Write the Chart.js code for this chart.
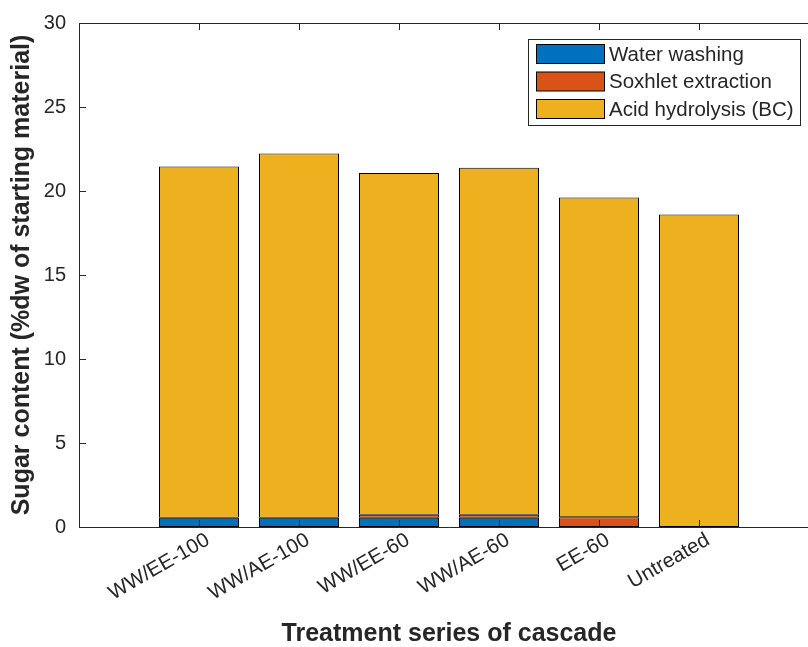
<!DOCTYPE html>
<html>
<head>
<meta charset="utf-8">
<script src="https://cdn.jsdelivr.net/npm/chart.js@4/dist/chart.umd.min.js"></script>
<style>
  html, body { margin: 0; padding: 0; background: #fff; overflow: hidden; }
  #wrap { width: 830px; height: 647px; }
</style>
</head>
<body>
<div id="wrap"><canvas id="c" width="830" height="647"></canvas></div>
<script>
// Cascade treatments on the x axis
const categories = ['WW/EE-100', 'WW/AE-100', 'WW/EE-60', 'WW/AE-60', 'EE-60', 'Untreated'];
// Sugar released at each step, %dw of starting material
const waterWashing      = [0.55, 0.55, 0.55, 0.55, 0, 0];
const soxhletExtraction = [0, 0, 0.18, 0.18, 0.58, 0];
const acidHydrolysis    = [20.91, 21.68, 20.34, 20.65, 19.03, 18.60];
const yTicks = [0, 5, 10, 15, 20, 25, 30];

const AXIS = '#262626';
const FONT = '"Liberation Sans", Arial, Helvetica, sans-serif';

const toPoints = arr => arr.map((v, i) => ({ x: i + 1, y: v }));

// Inside tick marks, top border and the in-plot legend, drawn like a boxed axes
const boxPlugin = {
  id: 'box',
  afterDraw(chart) {
    const { ctx, chartArea: a, scales } = chart;
    const L = 7;
    ctx.save();
    ctx.strokeStyle = AXIS;
    ctx.lineWidth = 1;
    ctx.beginPath();
    // top and right frame
    ctx.moveTo(a.left, a.top + 0.5); ctx.lineTo(a.right, a.top + 0.5);
    ctx.moveTo(a.right - 0.5, a.top); ctx.lineTo(a.right - 0.5, a.bottom);
    // x ticks (bottom and top)
    categories.forEach((_, i) => {
      const x = Math.round(scales.x.getPixelForValue(i + 1)) + 0.5;
      ctx.moveTo(x, a.bottom); ctx.lineTo(x, a.bottom - L);
      ctx.moveTo(x, a.top); ctx.lineTo(x, a.top + L);
    });
    // y ticks (left and right)
    yTicks.forEach(v => {
      const y = Math.round(scales.y.getPixelForValue(v)) + 0.5;
      ctx.moveTo(a.left, y); ctx.lineTo(a.left + L, y);
      ctx.moveTo(a.right, y); ctx.lineTo(a.right - L, y);
    });
    ctx.stroke();

    // legend
    const lx = 528.5, ly = 39.5, lw = 272, lh = 86;
    ctx.fillStyle = '#fff';
    ctx.fillRect(lx, ly, lw, lh);
    ctx.strokeStyle = AXIS;
    ctx.strokeRect(lx, ly, lw, lh);
    ctx.font = '20.5px ' + FONT;
    ctx.textBaseline = 'middle';
    ctx.textAlign = 'left';
    chart.data.datasets.forEach((ds, i) => {
      const cy = 54 + i * 27.5;
      ctx.fillStyle = ds.backgroundColor;
      ctx.fillRect(536.5, cy - 9.5, 68, 19);
      ctx.strokeStyle = '#000';
      ctx.strokeRect(536.5, cy - 9.5, 68, 19);
      ctx.fillStyle = AXIS;
      ctx.fillText(ds.label, 609, cy + 1);
    });
    ctx.restore();
  }
};

const common = { borderColor: '#000', borderWidth: 1, borderSkipped: false, barPercentage: 0.8, categoryPercentage: 1.0 };

new Chart(document.getElementById('c'), {
  type: 'bar',
  data: {
    datasets: [
      Object.assign({ label: 'Water washing', data: toPoints(waterWashing), backgroundColor: '#0072BD' }, common),
      Object.assign({ label: 'Soxhlet extraction', data: toPoints(soxhletExtraction), backgroundColor: '#D95319' }, common),
      Object.assign({ label: 'Acid hydrolysis (BC)', data: toPoints(acidHydrolysis), backgroundColor: '#EDB120' }, common)
    ]
  },
  options: {
    responsive: false,
    animation: false,
    devicePixelRatio: 1,
    layout: { padding: { top: 23, right: 11, left: 0, bottom: 0 } },
    plugins: { legend: { display: false }, tooltip: { enabled: false } },
    scales: {
      x: {
        type: 'linear',
        offset: false,
        stacked: true,
        min: -0.2,
        max: 7.2,
        grid: { display: false, drawTicks: false },
        border: { display: true, color: AXIS, width: 1 },
        afterBuildTicks: s => { s.ticks = categories.map((_, i) => ({ value: i + 1 })); },
        afterFit: s => { s.height = 120; },
        ticks: {
          autoSkip: false,
          minRotation: 30,
          maxRotation: 30,
          padding: 1,
          labelOffset: 9,
          color: AXIS,
          font: { family: FONT, size: 20.5 },
          callback: v => categories[v - 1]
        },
        title: {
          display: true,
          text: 'Treatment series of cascade',
          color: AXIS,
          font: { family: FONT, size: 25, weight: 'bold', lineHeight: 1.0 },
          padding: { top: 0, bottom: 0 }
        }
      },
      y: {
        stacked: true,
        min: 0,
        max: 30,
        grid: { display: false, drawTicks: false },
        border: { display: true, color: AXIS, width: 1 },
        afterBuildTicks: s => { s.ticks = yTicks.map(v => ({ value: v })); },
        afterFit: s => { s.width = 79; },
        ticks: {
          padding: 13,
          color: AXIS,
          font: { family: FONT, size: 20, lineHeight: 1.0 }
        },
        title: {
          display: true,
          text: 'Sugar content (%dw of starting material)',
          color: AXIS,
          font: { family: FONT, size: 25, weight: 'bold' },
          padding: { top: 7, bottom: 0 }
        }
      }
    }
  },
  plugins: [boxPlugin]
});
</script>
</body>
</html>
